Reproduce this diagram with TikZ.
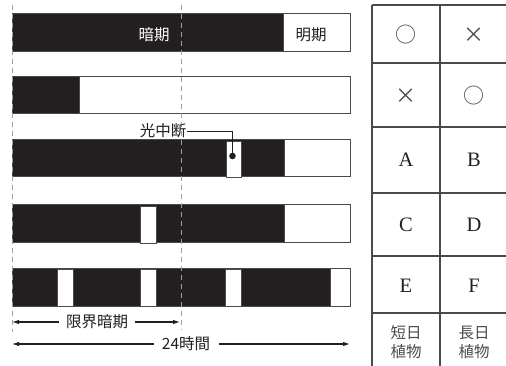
\documentclass[tikz,border=0pt]{standalone}
\usepackage{fontspec}
\setmainfont{Liberation Serif}
\newfontfamily\jp{Noto Sans CJK JP}
\usetikzlibrary{arrows.meta}
\definecolor{ink}{HTML}{231F20}
\definecolor{edge}{HTML}{4A4A4A}
\definecolor{dash}{HTML}{A0A0A0}
\tikzset{
  barbg/.style={draw=edge,line width=1pt,fill=white},
  dark/.style={draw=edge,line width=1pt,fill=ink},
  slot/.style={draw=edge,line width=0.9pt,fill=white},
  guide/.style={draw=dash,line width=0.9pt,dash pattern=on 5pt off 4pt},
  grid/.style={draw=edge,line width=1.1pt},
  lbl/.style={font=\jp\fontsize{15.5}{15.5}\selectfont,inner sep=1pt},
  cell/.style={font=\fontsize{20.5}{20.5}\selectfont,inner sep=0pt,text=ink},
  sym/.style={font=\jp\fontsize{21}{21}\selectfont,inner sep=0pt,text=edge},
  arr/.style={line width=1.1pt,draw=ink,-{Latex[length=7pt,width=4.5pt]}},
  lead/.style={line width=0.9pt,draw=ink}
}
\begin{document}
\begin{tikzpicture}[x=1pt,y=-1pt]
\useasboundingbox (0,0) rectangle (506,366);
% bar 1
\draw[barbg] (12,14) rectangle (350,52);
\draw[dark] (12,14) rectangle (283,52);
% bar 2
\draw[barbg] (12,77) rectangle (350,114);
\draw[dark] (12,77) rectangle (79,114);
% bar 3
\draw[barbg] (12,140) rectangle (350,177);
\draw[dark] (12,140) rectangle (284,177);
\draw[slot] (226,141) rectangle (241,177);
% bar 4
\draw[barbg] (12,205) rectangle (350,243);
\draw[dark] (12,205) rectangle (284,243);
\draw[slot] (140,206) rectangle (156,243);
% bar 5
\draw[barbg] (12,268) rectangle (350,306);
\draw[dark] (12,268) rectangle (330,306);
\draw[slot] (57,269) rectangle (73,306);
\draw[slot] (140,269) rectangle (156,306);
\draw[slot] (225,269) rectangle (241,306);
% guides
\draw[guide] (12,5) -- (12,332);
\draw[guide] (181,5) -- (181,330);
% labels
\node[lbl,text=white] (dark1) at (154,35) {暗期};
\node[lbl,text=ink] (light1) at (311,35) {明期};
\node[lbl,text=ink] (nb) at (163,131) {光中断};
\coordinate (dot) at (232.5,156);
\fill[ink] (dot) circle (3.3pt);
\draw[lead] (nb.east) -- (nb.east -| dot) -- (dot);
% arrows
\node[lbl,text=ink] (crit) at (97,322) {限界暗期};
\coordinate (critL) at (12,322);
\coordinate (critR) at (180,322);
\draw[arr] ([xshift=-6pt]crit.west) -- (critL);
\draw[arr] ([xshift=6pt]crit.east) -- (critR);
\node[lbl,text=ink] (day) at (186,344) {24時間};
\coordinate (dayL) at (12,344);
\coordinate (dayR) at (350,344);
\draw[arr] ([xshift=-7pt]day.west) -- (dayL);
\draw[arr] ([xshift=8pt]day.east) -- (dayR);
% table
\draw[grid] (372,5) -- (372,366);
\draw[grid] (440,5) -- (440,366);
\foreach \yy in {5,63,127,193,256,313} \draw[grid] (372,\yy) -- (506,\yy);
\node[sym] (c11) at (406,35) {○};
\node[sym] (c12) at (474,35) {×};
\node[sym] (c21) at (406,96) {×};
\node[sym] (c22) at (474,96) {○};
\node[cell] (c31) at (406,160) {A};
\node[cell] (c32) at (474,160) {B};
\node[cell] (c41) at (406,225) {C};
\node[cell] (c42) at (474,225) {D};
\node[cell] (c51) at (406,286) {E};
\node[cell] (c52) at (474,286) {F};
\node[lbl,text=edge,align=center,font=\jp\fontsize{15.5}{19}\selectfont] (c61) at (406,342) {短日\\植物};
\node[lbl,text=edge,align=center,font=\jp\fontsize{15.5}{19}\selectfont] (c62) at (474,342) {長日\\植物};
\end{tikzpicture}
\end{document}
